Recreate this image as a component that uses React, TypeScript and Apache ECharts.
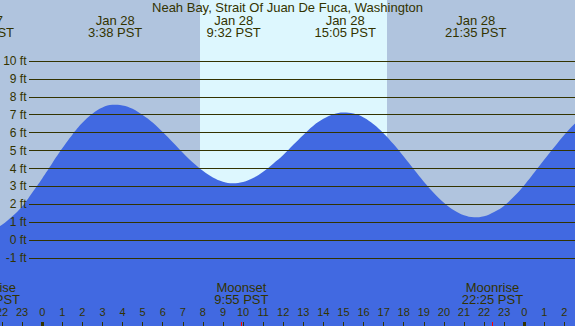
import { useEffect, useRef } from 'react';
import * as echarts from 'echarts';

const TITLE = 'Neah Bay, Strait Of Juan De Fuca, Washington';

// Tide height every half hour (hours from midnight Jan 28, feet)
const tideHours = [-3, -2.5, -2, -1.5, -1, -0.5, 0, 0.5, 1, 1.5, 2, 2.5, 3, 3.5, 4, 4.5, 5, 5.5, 6, 6.5, 7, 7.5, 8, 8.5, 9, 9.5, 10, 10.5, 11, 11.5, 12, 12.5, 13, 13.5, 14, 14.5, 15, 15.5, 16, 16.5, 17, 17.5, 18, 18.5, 19, 19.5, 20, 20.5, 21, 21.5, 22, 22.5, 23, 23.5, 24, 24.5, 25, 25.5, 26, 26.5, 27];
const tideFeet = [0.53, 0.6, 0.87, 1.32, 1.88, 2.65, 3.45, 4.3, 5.13, 5.89, 6.55, 7.06, 7.4, 7.55, 7.52, 7.33, 6.98, 6.56, 6.03, 5.46, 4.88, 4.34, 3.87, 3.5, 3.27, 3.18, 3.25, 3.47, 3.82, 4.27, 4.75, 5.32, 5.87, 6.39, 6.77, 7.03, 7.13, 7.07, 6.85, 6.47, 5.96, 5.35, 4.67, 3.96, 3.27, 2.64, 2.09, 1.67, 1.39, 1.28, 1.34, 1.58, 1.93, 2.45, 3.07, 3.78, 4.5, 5.2, 5.88, 6.48, 6.95];

const extremeHours = [-2.93, 3.633, 9.533, 15.083, 21.583];
const extremeLabels = ['Jan 27\n21:04 PST', 'Jan 28\n3:38 PST', 'Jan 28\n9:32 PST', 'Jan 28\n15:05 PST', 'Jan 28\n21:35 PST'];

const moonHours = [-2.633, 9.917, 22.417];
const moonLabels = ['Moonrise\n21:22 PST', 'Moonset\n9:55 PST', 'Moonrise\n22:25 PST'];

const sunHours = [7.857, 17.167];
const midnightHours = [0, 24];

const hourMin = -3;
const hourMax = 27;
const feetMin = -5;
const feetMax = 14;
const feetTicks = [-1, 0, 1, 2, 3, 4, 5, 6, 7, 8, 9, 10];

const TEXT = '#333300';
const NIGHT = '#B0C4DE';
const DAY = '#DDF7FE';
const WATER = '#4169E1';
const FONT = '"Liberation Sans", Arial, sans-serif';

function nearestLabel(v: number, hours: number[], labels: string[]) {
  let best = 0;
  for (let i = 1; i < hours.length; i++) {
    if (Math.abs(v - hours[i]) < Math.abs(v - hours[best])) best = i;
  }
  return labels[best];
}

export default function App() {
  const ref = useRef<HTMLDivElement>(null);

  useEffect(() => {
    if (!ref.current) return;
    const chart = echarts.init(ref.current, undefined, { renderer: 'svg' });

    const baseGrid = { left: -18.06, right: -9.5, top: -10.86, bottom: -4, containLabel: false, outerBoundsMode: 'none' };
    const tide = tideHours.map((h, i) => [h, tideFeet[i]]);
    const splitColors: string[] = [];
    for (let v = feetMin; v <= feetMax; v++) {
      splitColors.push(feetTicks.includes(v) ? TEXT : 'rgba(0,0,0,0)');
    }
    const hiddenY = (gridIndex: number) => ({
      type: 'value', gridIndex, min: feetMin, max: feetMax, show: false,
    });
    const hiddenAxisParts = {
      axisLine: { show: false, onZero: false },
      splitLine: { show: false },
    };

    const option: any = {
      animation: false,
      backgroundColor: NIGHT,
      title: {
        text: TITLE,
        left: 'center',
        top: 0,
        padding: [1, 0, 0, 0],
        textStyle: { fontFamily: FONT, fontSize: 13, fontWeight: 'normal', color: TEXT, lineHeight: 13 },
      },
      grid: [
        { ...baseGrid },
        { ...baseGrid, left: 29 },
        { ...baseGrid },
        { ...baseGrid },
      ],
      xAxis: [
        {
          type: 'value', gridIndex: 0, position: 'bottom', min: hourMin, max: hourMax, interval: 1, z: 5,
          ...hiddenAxisParts,
          axisTick: { show: true, inside: true, length: 8, lineStyle: { color: TEXT, width: 1 } },
          axisLabel: {
            inside: true, margin: 12, fontFamily: FONT, fontSize: 11, color: TEXT, lineHeight: 12,
            showMinLabel: true, showMaxLabel: true,
            formatter: (v: number) => String(((v % 24) + 24) % 24),
          },
        },
        {
          type: 'value', gridIndex: 0, position: 'top', min: hourMin, max: hourMax, z: 5,
          ...hiddenAxisParts,
          axisTick: { show: false },
          axisLabel: {
            inside: true, margin: 24.86, fontFamily: FONT, fontSize: 13, color: TEXT, lineHeight: 12,
            customValues: extremeHours,
            formatter: (v: number) => nearestLabel(v, extremeHours, extremeLabels),
          },
        },
        {
          type: 'value', gridIndex: 1, min: hourMin, max: hourMax, show: false,
        },
        {
          type: 'value', gridIndex: 2, position: 'bottom', min: hourMin, max: hourMax, z: 6,
          ...hiddenAxisParts,
          axisTick: { show: true, inside: true, length: 8, customValues: midnightHours, lineStyle: { color: TEXT, width: 3 } },
          axisLabel: { show: false },
        },
        {
          type: 'value', gridIndex: 3, position: 'bottom', min: hourMin, max: hourMax, z: 6,
          ...hiddenAxisParts,
          axisTick: { show: true, inside: true, length: 8, customValues: moonHours, lineStyle: { color: '#FF0000', width: 1 } },
          axisLabel: {
            inside: true, margin: 24.8, fontFamily: FONT, fontSize: 13, color: TEXT, lineHeight: 12,
            customValues: moonHours,
            formatter: (v: number) => nearestLabel(v, moonHours, moonLabels),
          },
        },
      ],
      yAxis: [
        hiddenY(0),
        {
          type: 'value', gridIndex: 1, min: feetMin, max: feetMax, interval: 1, z: 5,
          axisLine: { show: false, onZero: false },
          axisTick: { show: false },
          splitLine: { show: true, lineStyle: { color: splitColors, width: 1 } },
          axisLabel: {
            margin: 2.5, fontFamily: FONT, fontSize: 12, color: TEXT,
            formatter: (v: number) => (feetTicks.includes(v) ? `${v} ft` : ''),
          },
        },
        hiddenY(2),
        hiddenY(3),
      ],
      series: [
        {
          type: 'line', xAxisIndex: 0, yAxisIndex: 0, z: 1, silent: true,
          data: tide, symbol: 'none', lineStyle: { opacity: 0, width: 0 },
          markArea: {
            silent: true,
            itemStyle: { color: DAY },
            data: [[{ xAxis: sunHours[0] }, { xAxis: sunHours[1] }]],
          },
        },
        {
          type: 'line', xAxisIndex: 0, yAxisIndex: 0, z: 2, silent: true,
          data: tide, symbol: 'none', smooth: 0.4,
          lineStyle: { width: 0 },
          areaStyle: { color: WATER, opacity: 1, origin: 'start' },
        },
        { type: 'line', xAxisIndex: 2, yAxisIndex: 1, data: [], silent: true },
        { type: 'line', xAxisIndex: 3, yAxisIndex: 2, data: [], silent: true },
        { type: 'line', xAxisIndex: 4, yAxisIndex: 3, data: [], silent: true },
      ],
    };

    chart.setOption(option);
    return () => chart.dispose();
  }, []);

  return (
    <div
      ref={ref}
      style={{ position: 'absolute', left: 0, top: 0, width: 575, height: 326 }}
    />
  );
}
